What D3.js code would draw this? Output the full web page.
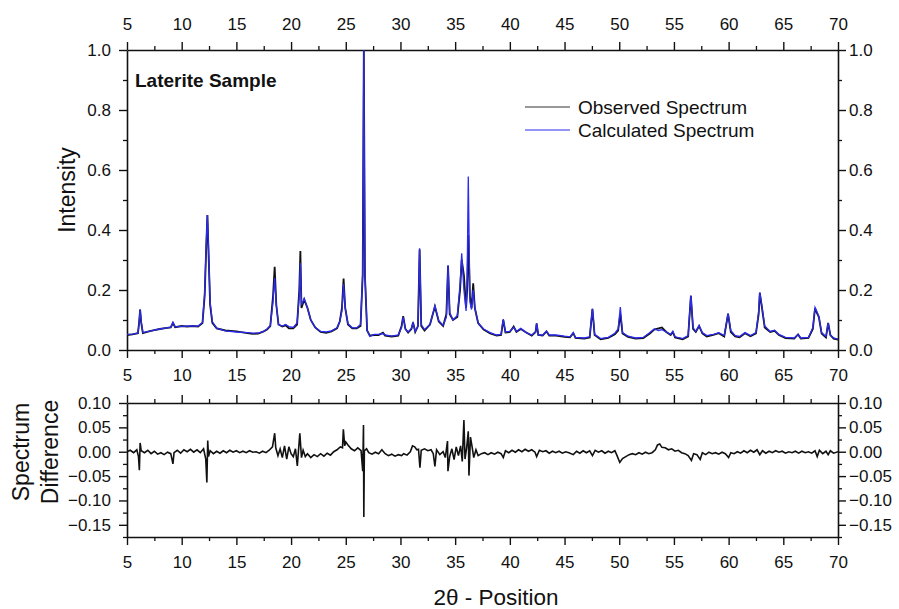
<!DOCTYPE html>
<html>
<head>
<meta charset="utf-8">
<script src="https://cdn.jsdelivr.net/npm/d3@7"></script>
<style>
  body { margin: 0; background: #fff; }
  svg { display: block; font-family: "Liberation Sans", Arial, sans-serif; }
  .tick text { font-size: 17px; fill: #111; }
  .domain, .tick line { stroke: #111; }
</style>
</head>
<body>
<div id="chart"></div>
<script>
// 2θ grid shared by observed and calculated spectra
const twoTheta = [
  5.0, 5.5, 6.0, 6.1, 6.2, 6.3, 6.45, 7.0, 7.5, 8.0, 8.5, 9.0, 9.2, 9.4, 10.0, 10.5, 11.0, 11.5, 11.9,
  12.1, 12.25, 12.35, 12.45, 12.6, 12.8, 13.2, 14.0, 15.0, 16.0, 16.5, 17.0, 17.5, 17.8, 18.1, 18.35,
  18.5, 18.65, 18.85, 19.2, 19.5, 19.8, 20.2, 20.55, 20.75, 20.85, 20.95, 21.2, 21.5, 21.8, 22.2, 22.7,
  23.2, 23.7, 24.2, 24.45, 24.65, 24.8, 24.95, 25.2, 25.6, 26.0, 26.35, 26.55, 26.65, 26.75, 26.95, 27.2,
  27.6, 28.0, 28.4, 28.6, 29.2, 29.8, 30.1, 30.25, 30.45, 30.7, 31.0, 31.15, 31.35, 31.6, 31.75, 31.9,
  32.2, 32.7, 33.15, 33.5, 33.9, 34.2, 34.35, 34.5, 34.8, 35.2, 35.45, 35.6, 35.8, 36.0, 36.1, 36.2,
  36.35, 36.5, 36.65, 36.8, 37.1, 37.6, 38.2, 38.8, 39.2, 39.4, 39.6, 40.0, 40.35, 40.6, 41.0, 41.5,
  42.0, 42.35, 42.45, 42.6, 43.0, 43.35, 43.6, 44.2, 45.0, 45.5, 45.8, 46.0, 46.8, 47.3, 47.55, 47.75,
  48.3, 49.0, 49.6, 49.9, 50.1, 50.3, 50.8, 51.5, 52.2, 52.8, 53.2, 53.6, 53.9, 54.3, 54.7, 54.9, 55.1,
  55.8, 56.3, 56.55, 56.75, 57.0, 57.3, 57.6, 58.0, 58.6, 59.1, 59.6, 59.95, 60.2, 60.6, 61.0, 61.5,
  62.0, 62.5, 62.75, 62.85, 63.05, 63.3, 63.8, 64.2, 64.6, 65.2, 66.0, 66.35, 66.6, 67.3, 67.7, 67.9,
  68.05, 68.25, 68.5, 68.9, 69.1, 69.3, 69.6, 70.0
];

const observed = [
  .050, .052, .056, .090, .135, .090, .056, .062, .066, .070, .073, .075, .090, .076, .080, .078, .080, .078, .090,
  .180, .350, .450, .330, .150, .090, .072, .065, .062, .056, .054, .055, .062, .068, .080, .180,
  .277, .150, .085, .078, .082, .072, .072, .085, .200, .330, .140, .168, .140, .100, .075, .060,
  .057, .062, .072, .095, .140, .238, .140, .085, .072, .072, .080, .250, 1.00, .250, .065, .048,
  .050, .050, .058, .048, .045, .048, .080, .113, .070, .058, .070, .092, .060, .080, .335, .080,
  .065, .085, .145, .095, .080, .120, .280, .120, .100, .110, .200, .300, .250, .140, .200, .383,
  .180, .140, .222, .140, .090, .068, .055, .048, .050, .100, .058, .060, .078, .060, .070, .058,
  .048, .060, .088, .050, .048, .062, .048, .048, .044, .042, .056, .040, .038, .042, .136, .050,
  .036, .040, .052, .065, .120, .055, .044, .038, .040, .055, .068, .072, .075, .060, .050, .060, .042,
  .036, .045, .180, .070, .060, .080, .055, .045, .050, .056, .045, .120, .060, .045, .042, .056,
  .046, .055, .120, .190, .140, .075, .060, .064, .050, .040, .038, .052, .038, .040, .070, .140,
  .125, .110, .055, .042, .090, .050, .038, .035
];

const calculated = [
  .052, .053, .056, .085, .135, .095, .058, .062, .066, .070, .073, .076, .092, .077, .079, .080, .080, .080, .092,
  .190, .360, .450, .340, .160, .095, .073, .064, .060, .058, .056, .056, .062, .070, .082, .160,
  .240, .150, .085, .080, .085, .078, .075, .090, .180, .290, .150, .172, .140, .100, .076, .062,
  .060, .064, .074, .095, .130, .220, .140, .088, .074, .074, .085, .260, 1.00, .260, .065, .045,
  .052, .052, .055, .050, .046, .050, .075, .110, .070, .060, .072, .090, .062, .080, .339, .085,
  .068, .085, .147, .098, .082, .110, .283, .125, .100, .115, .220, .322, .200, .130, .250, .578,
  .160, .135, .200, .140, .090, .070, .058, .050, .052, .103, .060, .062, .076, .062, .072, .058,
  .050, .060, .090, .050, .050, .063, .050, .050, .046, .044, .058, .042, .040, .044, .138, .052,
  .038, .042, .056, .070, .143, .058, .046, .040, .042, .058, .070, .065, .068, .060, .052, .062, .044,
  .038, .048, .182, .075, .062, .082, .058, .048, .052, .058, .048, .122, .065, .048, .045, .058,
  .048, .058, .130, .192, .145, .080, .062, .066, .052, .042, .040, .052, .040, .042, .075, .142,
  .130, .112, .058, .045, .090, .050, .040, .036
];

// observed - calculated
const diffTheta = [
  5.0, 5.3, 5.6, 5.9, 6.05, 6.13, 6.2, 6.3, 6.6, 6.9, 7.2, 7.5, 7.8, 8.1, 8.4, 8.7, 9.0, 9.2, 9.3, 9.6,
  9.9, 10.2, 10.5, 10.8, 11.1, 11.4, 11.7, 12.0, 12.2, 12.3, 12.38, 12.45, 12.6, 12.9, 13.2, 13.5, 13.8,
  14.1, 14.4, 14.7, 15.0, 15.3, 15.6, 15.9, 16.2, 16.5, 16.8, 17.1, 17.4, 17.7, 18.0, 18.3, 18.5, 18.6,
  18.8, 19.0, 19.2, 19.4, 19.6, 19.8, 20.0, 20.2, 20.4, 20.57, 20.8, 20.95, 21.1, 21.3, 21.5, 21.8, 22.1,
  22.4, 22.7, 23.0, 23.3, 23.6, 23.9, 24.2, 24.5, 24.7, 24.78, 24.9, 25.0, 25.2, 25.5, 25.8, 26.1, 26.4,
  26.55, 26.62, 26.65, 26.7, 26.9, 27.1, 27.4, 27.7, 28.0, 28.3, 28.6, 28.9, 29.2, 29.5, 29.8, 30.1,
  30.3, 30.6, 30.9, 31.1, 31.3, 31.5, 31.65, 31.78, 31.9, 32.2, 32.5, 32.8, 33.0, 33.15, 33.3, 33.6,
  33.9, 34.1, 34.3, 34.34, 34.5, 34.7, 34.9, 35.1, 35.3, 35.5, 35.65, 35.8, 35.9, 36.05, 36.2, 36.26,
  36.4, 36.55, 36.7, 36.9, 37.1, 37.4, 37.7, 38.0, 38.3, 38.6, 38.9, 39.2, 39.4, 39.6, 39.9, 40.2, 40.5,
  40.8, 41.1, 41.4, 41.7, 42.0, 42.3, 42.45, 42.7, 43.0, 43.3, 43.6, 43.9, 44.2, 44.5, 44.8, 45.1, 45.4,
  45.8, 46.1, 46.4, 46.7, 47.0, 47.3, 47.55, 47.8, 48.1, 48.4, 48.7, 49.0, 49.3, 49.6, 49.8, 50.05,
  50.3, 50.6, 50.9, 51.2, 51.5, 51.8, 52.1, 52.4, 52.7, 53.0, 53.3, 53.5, 53.7, 53.9, 54.2, 54.5, 54.8,
  55.1, 55.4, 55.7, 56.0, 56.3, 56.6, 56.8, 57.1, 57.4, 57.6, 57.9, 58.2, 58.5, 58.8, 59.1, 59.4, 59.7,
  60.0, 60.2, 60.5, 60.8, 61.1, 61.4, 61.7, 62.0, 62.3, 62.6, 62.85, 63.1, 63.4, 63.7, 64.0, 64.3, 64.6,
  64.9, 65.2, 65.5, 65.8, 66.1, 66.4, 66.7, 67.0, 67.3, 67.6, 67.9, 68.1, 68.3, 68.6, 68.9, 69.1, 69.3,
  69.6, 70.0
];

const difference = [
  0.000, 0.003, -0.002, 0.004, -0.010, -0.038, 0.018, 0.002, -0.002, 0.003, -0.004, 0.001, -0.005, -0.002, -0.006, -0.001, -0.004, -0.025, -0.002, 0.003,
  -0.003, 0.004, 0.000, 0.005, -0.001, 0.004, -0.002, 0.006, -0.015, -0.063, 0.023, -0.010, 0.002, -0.004, 0.001, -0.003, 0.002,
  -0.002, 0.003, -0.001, 0.002, -0.002, 0.001, -0.002, 0.002, -0.001, 0.000, -0.003, 0.001, -0.002, 0.003, 0.010, 0.038, 0.008,
  -0.008, 0.006, -0.012, 0.012, -0.015, 0.010, -0.004, -0.010, 0.006, -0.029, 0.038, -0.012, 0.003, -0.010, -0.004, -0.012, -0.006,
  -0.010, -0.004, -0.009, -0.003, -0.007, 0.000, 0.004, 0.010, 0.008, 0.046, 0.012, 0.020, 0.014, 0.006, 0.002, 0.008, 0.002,
  -0.040, 0.055, -0.134, 0.002, 0.006, -0.002, -0.005, -0.001, -0.004, 0.004, -0.004, -0.008, -0.005, -0.009, -0.006, -0.008,
  -0.004, -0.007, 0.000, 0.012, 0.010, 0.004, 0.005, -0.033, 0.003, 0.006, 0.002, 0.004, -0.004, -0.030, 0.004, -0.006,
  0.000, -0.012, 0.022, -0.040, -0.010, 0.006, -0.016, 0.010, -0.008, 0.012, -0.020, 0.065, -0.015, 0.008, 0.042, -0.049,
  0.030, 0.010, -0.012, 0.004, -0.008, -0.004, -0.002, -0.006, -0.002, -0.005, -0.001, -0.004, -0.012, 0.002, -0.002, 0.003, -0.001,
  0.004, 0.000, 0.005, 0.001, 0.004, -0.001, -0.010, 0.003, 0.000, 0.002, -0.003, 0.001, -0.002, 0.001, -0.003, 0.000, -0.002,
  -0.006, 0.001, -0.003, 0.002, -0.002, 0.002, -0.008, 0.003, -0.001, 0.002, -0.003, 0.001, -0.002, 0.002, -0.008, -0.022,
  -0.014, -0.010, -0.006, -0.004, -0.006, -0.002, -0.005, -0.001, -0.004, -0.002, 0.004, 0.014, 0.016, 0.009, 0.008, 0.004, 0.006,
  0.001, 0.003, -0.002, -0.004, -0.008, -0.018, -0.004, -0.006, -0.016, -0.002, -0.006, -0.001, -0.004, -0.002, -0.005, -0.001, -0.004,
  -0.012, -0.002, -0.004, 0.000, -0.003, 0.002, -0.002, 0.003, -0.001, 0.004, -0.006, 0.002, -0.003, 0.001, -0.002, 0.002, -0.001,
  0.001, -0.003, 0.000, -0.002, 0.001, -0.003, 0.001, -0.002, 0.000, -0.003, 0.002, -0.010, 0.003, -0.004, 0.001, -0.006, 0.002,
  -0.003, 0.000
];

const xTicks = [5, 10, 15, 20, 25, 30, 35, 40, 45, 50, 55, 60, 65, 70];
const xMinor = [7.5, 12.5, 17.5, 22.5, 27.5, 32.5, 37.5, 42.5, 47.5, 52.5, 57.5, 62.5, 67.5];
const yTicksTop = [0, 0.2, 0.4, 0.6, 0.8, 1.0];
const yMinorTop = [0.1, 0.3, 0.5, 0.7, 0.9];
const yTicksDiff = [-0.15, -0.10, -0.05, 0, 0.05, 0.10];
const yMinorDiff = [-0.175, -0.125, -0.075, -0.025, 0.025, 0.075];

const W = 899, H = 609;
const left = 127, right = 838;
const topPanel = { y0: 50, y1: 350 };
const diffPanel = { y0: 403, y1: 537 };

const svg = d3.select('#chart').append('svg')
  .attr('width', W).attr('height', H);

const x = d3.scaleLinear().domain([5, 70]).range([left, right]);
const yTop = d3.scaleLinear().domain([0, 1]).range([topPanel.y1, topPanel.y0]);
const yDiff = d3.scaleLinear().domain([-0.175, 0.10]).range([diffPanel.y1, diffPanel.y0]);

const defs = svg.append('defs');
defs.append('clipPath').attr('id', 'clipTop').append('rect')
  .attr('x', left).attr('y', topPanel.y0 - 1).attr('width', right - left).attr('height', topPanel.y1 - topPanel.y0 + 1);
defs.append('clipPath').attr('id', 'clipDiff').append('rect')
  .attr('x', left).attr('y', diffPanel.y0).attr('width', right - left).attr('height', diffPanel.y1 - diffPanel.y0);

// makeAxis returns a fresh d3 axis each call (major and minor ticks)
function drawAxis(makeAxis, tx, ty, ticks, minor, fmt, showLabels, pad) {
  svg.append('g').attr('transform', `translate(${tx},${ty})`)
    .call(makeAxis().tickValues(minor).tickSize(4).tickSizeOuter(0).tickFormat(''))
    .call(g => g.select('.domain').remove())
    .selectAll('.tick line').attr('stroke-width', 1.3);
  const g = svg.append('g').attr('transform', `translate(${tx},${ty})`);
  g.call(makeAxis().tickValues(ticks).tickSize(8).tickSizeOuter(0).tickPadding(pad)
    .tickFormat(showLabels ? fmt : ''));
  g.selectAll('.domain').attr('stroke-width', 1.6);
  g.selectAll('.tick line').attr('stroke-width', 1.4);
  return g;
}

const fx = d3.format('d');
const fTop = d3.format('.1f');
const fDiff = d3.format('.2f');

// top panel frame
drawAxis(() => d3.axisTop(x), 0, topPanel.y0, xTicks, xMinor, fx, true, 12);
drawAxis(() => d3.axisBottom(x), 0, topPanel.y1, xTicks, xMinor, fx, true, 11);
drawAxis(() => d3.axisLeft(yTop), left, 0, yTicksTop, yMinorTop, fTop, true, 8);
drawAxis(() => d3.axisRight(yTop), right, 0, yTicksTop, yMinorTop, fTop, true, 3);

// lower panel frame
drawAxis(() => d3.axisTop(x), 0, diffPanel.y0, xTicks, xMinor, fx, false, 12);
drawAxis(() => d3.axisBottom(x), 0, diffPanel.y1, xTicks, xMinor, fx, true, 11);
drawAxis(() => d3.axisLeft(yDiff), left, 0, yTicksDiff, yMinorDiff, fDiff, true, 8);
drawAxis(() => d3.axisRight(yDiff), right, 0, yTicksDiff, yMinorDiff, fDiff, true, 3);

const lineTop = (vals) => d3.line()
  .x((d, i) => x(twoTheta[i]))
  .y((d) => yTop(d))(vals);

svg.append('path')
  .attr('clip-path', 'url(#clipTop)')
  .attr('d', lineTop(observed))
  .attr('fill', 'none').attr('stroke', '#111').attr('stroke-width', 1.8);

svg.append('path')
  .attr('clip-path', 'url(#clipTop)')
  .attr('d', lineTop(calculated))
  .attr('fill', 'none').attr('stroke', '#2b2bf0').attr('stroke-width', 1.3);

svg.append('path')
  .attr('clip-path', 'url(#clipDiff)')
  .attr('d', d3.line().x((d, i) => x(diffTheta[i])).y((d) => yDiff(d))(difference))
  .attr('fill', 'none').attr('stroke', '#111').attr('stroke-width', 1.6);

// labels
svg.append('text')
  .attr('x', 135).attr('y', 87)
  .attr('font-size', 19).attr('font-weight', 'bold').attr('fill', '#111')
  .text('Laterite Sample');

const legend = [
  { label: 'Observed Spectrum', color: '#333', y: 107 },
  { label: 'Calculated Spectrum', color: '#2b2bf0', y: 130 }
];
legend.forEach(l => {
  svg.append('line')
    .attr('x1', 525).attr('x2', 570).attr('y1', l.y).attr('y2', l.y)
    .attr('stroke', l.color).attr('stroke-width', 1.2);
  svg.append('text')
    .attr('x', 578).attr('y', l.y + 6.5)
    .attr('font-size', 19).attr('fill', '#111')
    .text(l.label);
});

svg.append('text')
  .attr('transform', `translate(75,190) rotate(-90)`)
  .attr('text-anchor', 'middle').attr('font-size', 23).attr('fill', '#111')
  .text('Intensity');

const diffLabel = svg.append('text')
  .attr('transform', `translate(0,452) rotate(-90)`)
  .attr('text-anchor', 'middle').attr('font-size', 23).attr('fill', '#111');
diffLabel.append('tspan').attr('x', 0).attr('y', 29).text('Spectrum');
diffLabel.append('tspan').attr('x', 0).attr('y', 58).text('Difference');

svg.append('text')
  .attr('x', 496).attr('y', 605)
  .attr('text-anchor', 'middle').attr('font-size', 22.5).attr('fill', '#111')
  .text('2θ - Position');
</script>
</body>
</html>
